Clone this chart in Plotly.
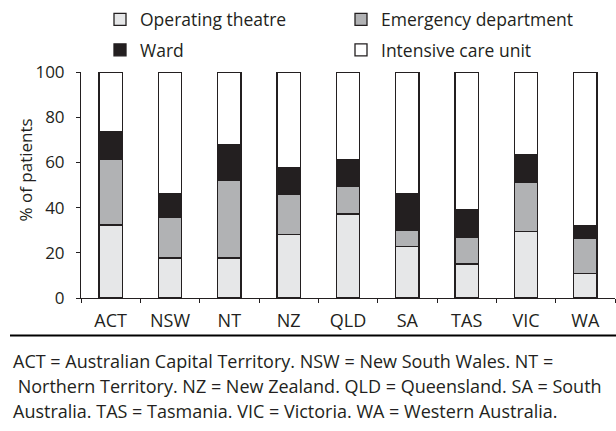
import plotly.graph_objects as go

regions = ["ACT", "NSW", "NT", "NZ", "QLD", "SA", "TAS", "VIC", "WA"]
operating_theatre = [32.3, 17.7, 17.7, 28.2, 37.2, 22.7, 15.0, 29.4, 10.9]
emergency_department = [29.2, 18.0, 34.2, 17.7, 12.4, 7.4, 12.0, 21.7, 15.6]
ward = [12.3, 10.6, 16.0, 11.9, 11.8, 15.9, 12.2, 12.5, 5.5]
intensive_care_unit = [26.2, 53.7, 32.1, 42.2, 38.6, 54.0, 60.8, 36.4, 68.0]
y_ticks = [0, 20, 40, 60, 80, 100]

footnote_lines = [
    "ACT = Australian Capital Territory. NSW = New South Wales. NT =",
    " Northern Territory. NZ = New Zealand. QLD = Queensland. SA = South",
    "Australia. TAS = Tasmania. VIC = Victoria. WA = Western Australia.",
]

INK = "#231f20"
FONT = "Open Sans"

series = [
    ("Operating theatre", operating_theatre, "#e6e7e8", "legend"),
    ("Emergency department", emergency_department, "#b1b2b4", "legend"),
    ("Ward", ward, "#231f20", "legend2"),
    ("Intensive care unit", intensive_care_unit, "#ffffff", "legend2"),
]

fig = go.Figure()
for name, vals, col, lg in series:
    fig.add_trace(go.Bar(
        x=regions, y=vals, name=name, legend=lg,
        marker=dict(color=col, line=dict(color=INK, width=1.3)),
        cliponaxis=False,
    ))

W, H = 616, 431
L, R, T, B = 81, 1, 72, 133
pw, ph = W - L - R, H - T - B

def px_x(x):
    return (x - L) / pw

def px_y(y):
    return (H - B - y) / ph

legend_common = dict(
    orientation="h",
    xanchor="left", yanchor="middle",
    entrywidth=196, entrywidthmode="pixels",
    font=dict(family=FONT, size=17.5, color=INK),
    bgcolor="rgba(0,0,0,0)",
    traceorder="normal",
)

fig.update_layout(
    width=W, height=H,
    margin=dict(l=L, r=R, t=T, b=B),
    barmode="stack",
    bargap=0.61,
    paper_bgcolor="white",
    plot_bgcolor="white",
    font=dict(family=FONT, size=17, color=INK),
    showlegend=True,
    legend=dict(x=px_x(100), y=px_y(19.5), **legend_common),
    legend2=dict(x=px_x(100), y=px_y(50), **legend_common),
    xaxis=dict(
        showline=True, linecolor=INK, linewidth=1,
        ticks="outside", ticklen=4, tickcolor=INK, tickwidth=1,
        tickson="boundaries",
        showgrid=False, zeroline=False,
        ticklabelstandoff=6,
        tickfont=dict(family=FONT, size=18, color=INK),
    ),
    yaxis=dict(
        range=[0, 100],
        tickvals=y_ticks,
        showline=True, linecolor=INK, linewidth=1,
        ticks="outside", ticklen=4, tickcolor=INK, tickwidth=1,
        showgrid=False, zeroline=False,
        ticklabelstandoff=8,
        tickfont=dict(family=FONT, size=17, color=INK),
    ),
)

fig.add_annotation(
    text="% of patients", textangle=-90,
    xref="paper", yref="paper", x=px_x(25), y=px_y(170.5),
    xanchor="center", yanchor="middle", showarrow=False,
    font=dict(family=FONT, size=17, color=INK),
)

fig.add_shape(
    type="line", xref="paper", yref="paper",
    x0=px_x(10), x1=px_x(616), y0=px_y(335.5), y1=px_y(335.5),
    line=dict(color="black", width=2),
)

for line, (xp, yp) in zip(footnote_lines, [(11, 361), (11, 386), (11, 411)]):
    fig.add_annotation(
        text=line, xref="paper", yref="paper",
        x=px_x(xp), y=px_y(yp), xanchor="left", yanchor="middle",
        showarrow=False, font=dict(family=FONT, size=18, color=INK),
    )

fig.write_html(
    "out.html",
    config={"displayModeBar": False},
    post_script="document.body.style.margin='0px';",
)
